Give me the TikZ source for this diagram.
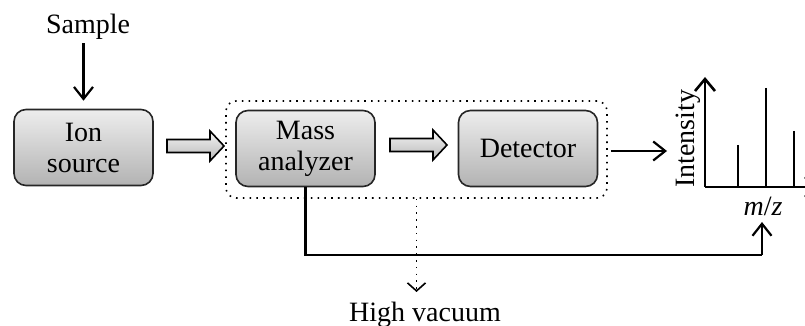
\documentclass[tikz,border=0pt]{standalone}
\usepackage{fontspec}
\setmainfont{Liberation Serif}
\usetikzlibrary{arrows.meta,calc}
\tikzset{
  lbl/.style={font=\fontsize{14}{15.5}\selectfont, inner sep=0pt, align=center},
  stage/.style={draw=black!85, line width=0.8pt, rounded corners=6pt,
    top color=black!7, bottom color=black!30, inner sep=0pt,
    minimum width=69.5pt, minimum height=38pt,
    font=\fontsize{14}{15.5}\selectfont, align=center},
  vacbox/.style={draw, line width=0.8pt, dash pattern=on 0.8pt off 2.6pt,
    rounded corners=5pt, minimum width=190.5pt, minimum height=48.5pt, inner sep=0pt},
  arr/.style={line width=1.1pt, -{Straight Barb[length=6pt,width=9.5pt,line width=1.1pt]}},
  axis/.style={line width=1.3pt, -{Straight Barb[length=6pt,width=10pt,line width=1.3pt]}},
  peak/.style={line width=1.1pt},
  pics/hollow/.style={code={
    \draw[line width=0.8pt, top color=black!4, bottom color=black!28]
      (-28.5,-6.5) -- (14.5,-6.5) -- (14.5,-15) -- (28.5,0) -- (14.5,15)
      -- (14.5,6.5) -- (-28.5,6.5) -- cycle;}}
}
\begin{document}
\begin{tikzpicture}[x=0.5pt,y=-0.5pt]
\useasboundingbox (0,0) rectangle (805,326);

% processing stages
\node[stage] (ion)  at (83.5,147.5) {Ion\\source};
\node[stage] (mass) at (305.5,148.5) {Mass\\analyzer};
\node[stage] (det)  at (528,148.5) {Detector};
\node[vacbox] (vac) at (416.5,149.5) {};

% sample inlet
\node[lbl] (sample) at (88,27) {Sample};
\draw[arr, shorten >=4pt] (ion.north |- sample.south) ++(0,3) -- (ion.north);

% hollow transfer arrows
\pic at (195.5,146) {hollow};
\pic at (418.5,145) {hollow};

% spectrum axes and peaks
\coordinate (o) at (705,187);
\coordinate (ytop) at (705,77);
\coordinate (xend) at (819,187);
\draw[axis] (o) -- (ytop);
\draw[axis] (o) -- (xend);
\coordinate (p1) at (738,145);
\coordinate (p2) at (766,88);
\coordinate (p3) at (794,131);
\draw[peak] (p1) -- (p1 |- o);
\draw[peak] (p2) -- (p2 |- o);
\draw[peak] (p3) -- (p3 |- o);
\node[lbl, rotate=90] (int) at (688,139) {Intensity};
\node[lbl] (mz) at (763,206) {\textit{m}/\textit{z}};

% detector output to spectrum
\coordinate (spin) at (667,151);
\draw[arr] (vac.east |- spin) ++(3,0) -- (spin);

% scan control from the analyzer
\coordinate (bus) at (762,255);
\coordinate (mzin) at (762,222);
\draw[line width=1.1pt] (mass.south) |- (bus);
\draw[arr] (bus) -- (mzin);

% vacuum pumping
\coordinate (pump) at (416.5,292);
\draw[line width=0.8pt, dash pattern=on 0.8pt off 2.6pt,
  -{Straight Barb[length=4pt,width=9pt,line width=0.8pt]}] (vac.south) -- (pump);
\node[lbl] (hv) at (425,315) {High vacuum};
\end{tikzpicture}
\end{document}
